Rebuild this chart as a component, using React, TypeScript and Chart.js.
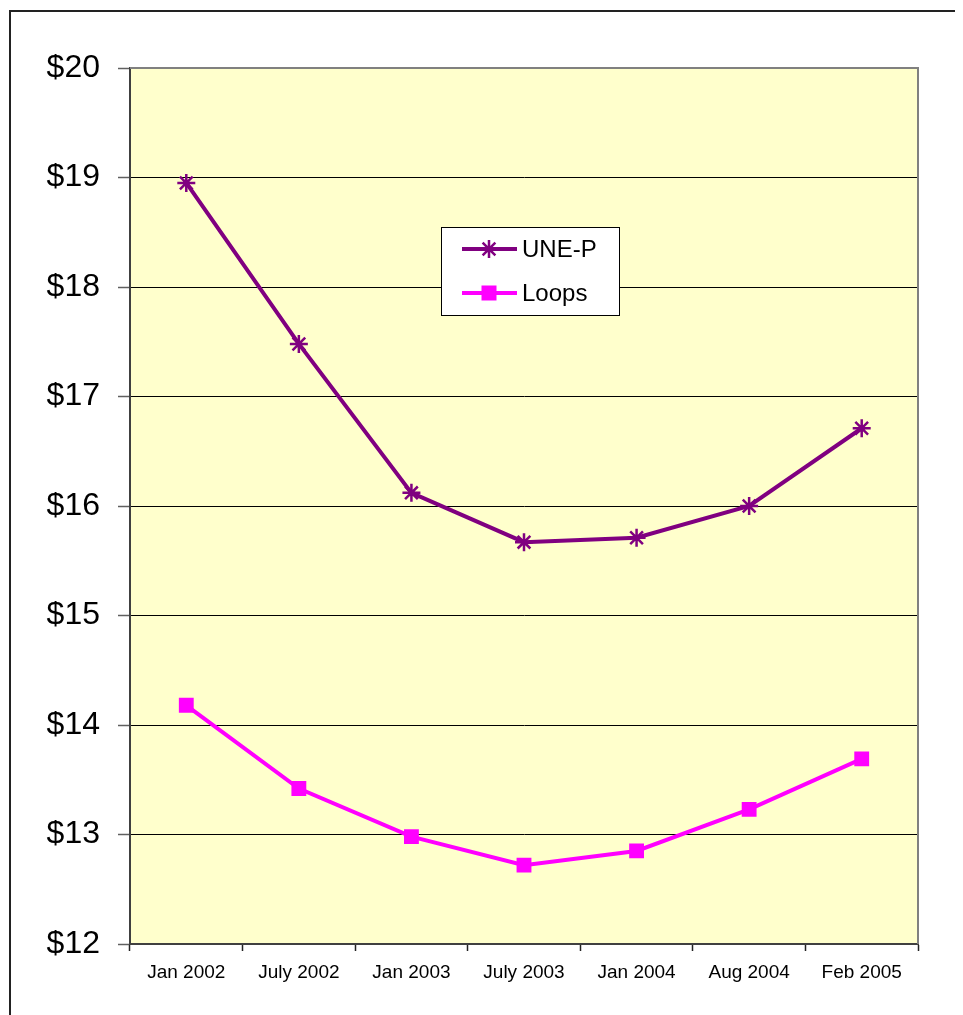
import React, { useEffect, useRef } from "react";
import { Chart, registerables } from "chart.js";

Chart.register(...registerables);

const categories = ["Jan 2002", "July 2002", "Jan 2003", "July 2003", "Jan 2004", "Aug 2004", "Feb 2005"];
const unepValues = [18.95, 17.48, 16.12, 15.67, 15.71, 16.0, 16.71];
const loopsValues = [14.18, 13.42, 12.98, 12.72, 12.85, 13.23, 13.69];
const yTicks = [12, 13, 14, 15, 16, 17, 18, 19, 20];

const UNEP_COLOR = "#800080";
const LOOPS_COLOR = "#FF00FF";
const FONT = "'Liberation Sans', Arial, sans-serif";

const plotBg = {
  id: "plotBg",
  beforeDraw(chart: any) {
    const { ctx, chartArea: a } = chart;
    ctx.save();
    ctx.fillStyle = "#FFFFCC";
    ctx.fillRect(a.left, a.top, a.right - a.left, a.bottom - a.top);
    ctx.restore();
  },
  beforeDatasetsDraw(chart: any) {
    const { ctx, chartArea: a } = chart;
    ctx.save();
    ctx.strokeStyle = "#808080";
    ctx.lineWidth = 2;
    ctx.beginPath();
    ctx.moveTo(a.left, a.top);
    ctx.lineTo(a.right, a.top);
    ctx.lineTo(a.right, a.bottom);
    ctx.stroke();
    ctx.restore();
  },
};

function drawStar(ctx: CanvasRenderingContext2D, x: number, y: number, r: number) {
  const d = r * Math.SQRT1_2;
  ctx.beginPath();
  ctx.moveTo(x, y - r);
  ctx.lineTo(x, y + r);
  ctx.moveTo(x - r, y);
  ctx.lineTo(x + r, y);
  ctx.moveTo(x - d, y - d);
  ctx.lineTo(x + d, y + d);
  ctx.moveTo(x - d, y + d);
  ctx.lineTo(x + d, y - d);
  ctx.stroke();
}

const customLegend = {
  id: "customLegend",
  afterDraw(chart: any) {
    const { ctx } = chart;
    const bx = 430, by = 215, bw = 178, bh = 88;
    ctx.save();
    ctx.fillStyle = "#FFFFFF";
    ctx.fillRect(bx, by, bw, bh);
    ctx.strokeStyle = "#000000";
    ctx.lineWidth = 1;
    ctx.strokeRect(bx + 0.5, by + 0.5, bw, bh);

    const items = chart.data.datasets.map((ds: any) => ({ label: ds.label, color: ds.borderColor, style: ds.pointStyle }));
    const ys = [237, 281];
    items.forEach((it: any, i: number) => {
      const y = ys[i];
      ctx.strokeStyle = it.color;
      ctx.lineWidth = 4;
      ctx.beginPath();
      ctx.moveTo(451, y);
      ctx.lineTo(506, y);
      ctx.stroke();
      if (it.style === "star") {
        ctx.lineWidth = 2.5;
        drawStar(ctx, 478, y, 9);
      } else {
        ctx.fillStyle = it.color;
        ctx.fillRect(478 - 7.5, y - 7.5, 15, 15);
      }
      ctx.fillStyle = "#000000";
      ctx.font = `24px ${FONT}`;
      ctx.textBaseline = "middle";
      ctx.textAlign = "left";
      ctx.fillText(it.label, 511, y + 1);
    });
    ctx.restore();
  },
};

export default function App() {
  const ref = useRef<HTMLCanvasElement | null>(null);

  useEffect(() => {
    if (!ref.current) return;
    const chart = new Chart(ref.current, {
      type: "line",
      data: {
        labels: categories,
        datasets: [
          {
            label: "UNE-P",
            data: unepValues,
            borderColor: UNEP_COLOR,
            backgroundColor: UNEP_COLOR,
            borderWidth: 4,
            tension: 0,
            pointStyle: "star",
            pointRadius: 9,
            pointBorderWidth: 2.5,
            pointBorderColor: UNEP_COLOR,
            fill: false,
          },
          {
            label: "Loops",
            data: loopsValues,
            borderColor: LOOPS_COLOR,
            backgroundColor: LOOPS_COLOR,
            borderWidth: 4,
            tension: 0,
            pointStyle: "rect",
            pointRadius: 10.5,
            pointBorderWidth: 0,
            pointBackgroundColor: LOOPS_COLOR,
            fill: false,
          },
        ],
      },
      options: {
        responsive: false,
        animation: false,
        layout: { padding: { top: 56, right: 45, left: 0, bottom: 0 } },
        plugins: {
          legend: { display: false },
          tooltip: { enabled: false },
        },
        scales: {
          x: {
            offset: true,
            grid: {
              offset: true,
              drawOnChartArea: false,
              drawTicks: true,
              tickLength: 7,
              tickColor: "#222222",
              tickWidth: 1.5,
            },
            border: { color: "#404040", width: 2 },
            ticks: {
              color: "#000000",
              font: { family: FONT, size: 19 },
              padding: 10,
              maxRotation: 0,
              autoSkip: false,
            },
            afterFit(scale: any) {
              scale.height = 71;
            },
          },
          y: {
            min: 12,
            max: 20,
            afterBuildTicks(scale: any) {
              scale.ticks = yTicks.map((v) => ({ value: v }));
            },
            grid: {
              color: (c: any) => (c.tick && c.tick.value === 20 ? "rgba(0,0,0,0)" : "#000000"),
              lineWidth: 1,
              tickLength: 12,
              tickColor: "#606060",
              tickWidth: 1.5,
            },
            border: { color: "#404040", width: 2 },
            ticks: {
              color: "#000000",
              font: { family: FONT, size: 32 },
              padding: 18,
              callback: (v: any) => `$${v}`,
            },
            afterFit(scale: any) {
              scale.width = 119;
            },
          },
        },
      },
      plugins: [plotBg, customLegend],
    });
    return () => chart.destroy();
  }, []);

  return (
    <div style={{ position: "relative", width: 955, height: 1007, overflow: "hidden" }}>
      <div
        style={{
          position: "absolute",
          left: 1,
          top: 2,
          width: 1000,
          height: 1050,
          border: "2px solid #222222",
          background: "#FFFFFF",
        }}
      >
        <canvas ref={ref} width={952} height={1003} style={{ display: "block" }} />
      </div>
    </div>
  );
}
